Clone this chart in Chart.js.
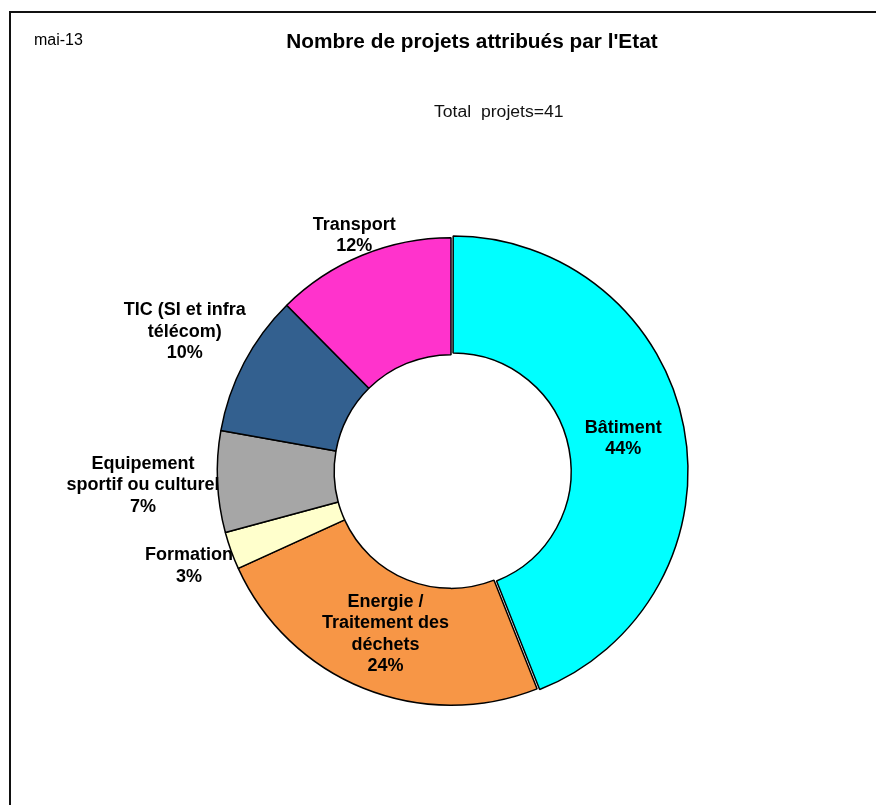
<!DOCTYPE html>
<html lang="fr">
<head>
<meta charset="utf-8">
<title>Nombre de projets attribués par l'Etat</title>
<script src="https://cdn.jsdelivr.net/npm/chart.js@4.4.0/dist/chart.umd.min.js"></script>
<style>
  html, body { margin: 0; padding: 0; background: #fff; }
  body { width: 876px; height: 805px; position: relative; overflow: hidden; font-family: "Liberation Sans", Arial, sans-serif; }
  #frame { position: absolute; left: 9px; top: 11px; width: 900px; height: 820px; border-left: 2px solid #111; border-top: 2px solid #111; }
  #chart { position: absolute; left: 0; top: 0; }
  .txt { position: absolute; color: #000; white-space: pre; }
  #date { left: 34px; top: 31px; font-size: 16px; }
  #title { left: 472px; top: 30px; font-size: 20px; font-weight: bold; transform: translateX(-50%) scaleX(1.04); }
  #total { left: 434px; top: 103px; font-size: 16px; color: #111; transform-origin: left center; transform: scaleX(1.1); }
</style>
</head>
<body>
<div id="frame"></div>
<canvas id="chart" width="876" height="805"></canvas>
<div class="txt" id="date"></div>
<div class="txt" id="title"></div>
<div class="txt" id="total"></div>
<script>
// data (share of each sector, in %)
const categories = [
  ['Bâtiment'],
  ['Energie /', 'Traitement des', 'déchets'],
  ['Formation'],
  ['Equipement', 'sportif ou culturel'],
  ['TIC (SI et infra', 'télécom)'],
  ['Transport']
];
const shares = [44.0, 24.2, 2.6, 7.0, 9.8, 12.4];
const sliceColors = ['#00FFFF', '#F79646', '#FFFFCC', '#A6A6A6', '#33608F', '#FF33CC'];
const totalProjets = 41;
const dateLabel = 'mai-13';
const chartTitle = "Nombre de projets attribués par l'Etat";

document.getElementById('date').textContent = dateLabel;
document.getElementById('title').textContent = chartTitle;
document.getElementById('total').textContent = 'Total  projets=' + totalProjets;

// labels: big slices inside the ring, small ones outside (box touching the ray)
const sliceLabels = {
  id: 'sliceLabels',
  afterDatasetsDraw(chart) {
    const ctx = chart.ctx;
    const meta = chart.getDatasetMeta(0);
    const data = chart.data.datasets[0].data;
    const total = data.reduce((a, b) => a + b, 0);
    const lh = 21.5;
    ctx.save();
    ctx.font = 'bold 18px "Liberation Sans", Arial, sans-serif';
    ctx.fillStyle = '#000';
    ctx.textAlign = 'center';
    ctx.textBaseline = 'middle';
    meta.data.forEach((arc, i) => {
      const p = arc.getProps(['x', 'y', 'startAngle', 'endAngle', 'innerRadius', 'outerRadius'], true);
      const mid = (p.startAngle + p.endAngle) / 2;
      const dx = Math.cos(mid), dy = Math.sin(mid);
      const lines = chart.data.labels[i].concat(Math.round(data[i] / total * 100) + '%');
      const h = lines.length * lh;
      const w = Math.max(...lines.map(l => ctx.measureText(l).width));
      let r;
      if (data[i] / total > 0.15) {
        r = (p.innerRadius + p.outerRadius) / 2;
      } else {
        const ex = Math.abs(dx) > 1e-6 ? w / 2 / Math.abs(dx) : Infinity;
        const ey = Math.abs(dy) > 1e-6 ? h / 2 / Math.abs(dy) : Infinity;
        r = p.outerRadius + Math.min(ex, ey) - 2;
      }
      const cx = p.x + dx * r, cy = p.y + dy * r;
      lines.forEach((l, k) => ctx.fillText(l, cx, cy - h / 2 + lh * (k + 0.5)));
    });
    ctx.restore();
  }
};

new Chart(document.getElementById('chart').getContext('2d'), {
  type: 'doughnut',
  data: {
    labels: categories,
    datasets: [{
      data: shares,
      backgroundColor: sliceColors,
      borderColor: '#000',
      borderWidth: 1.5,
      offset: [8, 0, 0, 0, 0, 0],
      hoverOffset: 0
    }]
  },
  options: {
    responsive: false,
    animation: false,
    cutout: '50%',
    layout: { padding: { left: 212.5, right: 186.5, top: 233, bottom: 95 } },
    plugins: {
      legend: { display: false },
      tooltip: { enabled: false }
    }
  },
  plugins: [sliceLabels]
});
</script>
</body>
</html>
